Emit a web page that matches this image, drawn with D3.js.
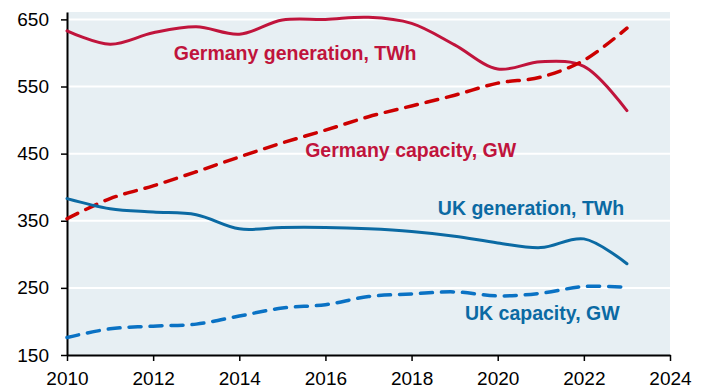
<!DOCTYPE html>
<html>
<head>
<meta charset="utf-8">
<script src="https://cdn.jsdelivr.net/npm/d3@7"></script>
<style>
  html, body { margin: 0; padding: 0; background: #fff; }
  svg { display: block; font-family: "Liberation Sans", Arial, sans-serif; }
</style>
</head>
<body>
<svg id="chart" width="707" height="390"></svg>
<script>
// Annual figures, 2010–2023
const years = [2010, 2011, 2012, 2013, 2014, 2015, 2016, 2017, 2018, 2019, 2020, 2021, 2022, 2023];
const germanyGeneration = [633, 613, 630, 639, 628, 649, 650, 653, 644, 612, 576, 587, 580, 514];
const germanyCapacity   = [353, 383, 402, 423, 445, 466, 485, 505, 521, 537, 555, 564, 589, 637];
const ukGeneration      = [383, 368, 363, 359, 338, 340, 340, 338, 334, 327, 317, 310, 323, 286];
const ukCapacity        = [176, 189, 193, 196, 208, 220, 225, 237, 241, 244, 238, 242, 252, 251];

const xTicks = [2010, 2012, 2014, 2016, 2018, 2020, 2022, 2024];
const yTicks = [150, 250, 350, 450, 550, 650];

const series = [
  { name: "Germany generation, TWh", values: germanyGeneration, color: "#c0143c", dashed: false,
    label: { year: 2012.48, value: 589 } },
  { name: "Germany capacity, GW", values: germanyCapacity, color: "#cc0000", dashed: true,
    labelColor: "#c0143c", label: { year: 2015.53, value: 445 } },
  { name: "UK generation, TWh", values: ukGeneration, color: "#0b6aa3", dashed: false,
    label: { year: 2018.61, value: 359 } },
  { name: "UK capacity, GW", values: ukCapacity, color: "#0a72c4", dashed: true,
    labelColor: "#0b6aa3", label: { year: 2019.24, value: 202.5 } }
];

const svg = d3.select("#chart");
const margin = { left: 67, right: 37, top: 12, bottom: 35 };
const width = 707, height = 390;

const x = d3.scaleLinear().domain([2010, 2024]).range([margin.left, width - margin.right]);
const y = d3.scaleLinear().domain([150, 661]).range([height - margin.bottom, margin.top]);

// plot background
svg.append("rect")
  .attr("x", x(2010)).attr("y", y(661))
  .attr("width", x(2024) - x(2010)).attr("height", y(150) - y(661))
  .attr("fill", "#e7eff3");

// horizontal gridlines
svg.append("g").selectAll("line")
  .data(yTicks.filter(t => t > 150))
  .join("line")
  .attr("x1", x(2010)).attr("x2", x(2024))
  .attr("y1", d => y(d)).attr("y2", d => y(d))
  .attr("stroke", "#fff").attr("stroke-width", 2);

// axes
const xAxis = svg.append("g")
  .attr("transform", `translate(0,${y(150)})`)
  .call(d3.axisBottom(x).tickValues(xTicks).tickFormat(d3.format("d")).tickSize(6).tickSizeOuter(0));
const yAxis = svg.append("g")
  .attr("transform", `translate(${x(2010)},0)`)
  .call(d3.axisLeft(y).tickValues(yTicks).tickSize(6).tickSizeOuter(0));

[xAxis, yAxis].forEach(g => {
  g.select(".domain").attr("stroke", "#000").attr("stroke-width", 2);
  g.selectAll(".tick line").attr("stroke", "#000").attr("stroke-width", 1.5);
  g.selectAll(".tick text").attr("fill", "#000").style("font-size", "19px")
    .style("font-family", '"Liberation Sans", Arial, sans-serif');
});
xAxis.selectAll(".tick text").attr("y", 30).attr("dy", 0);
yAxis.selectAll(".tick text").attr("x", -18);

// smoothed series lines
const line = d3.line()
  .x((d, i) => x(years[i]))
  .y(d => y(d))
  .curve(d3.curveCatmullRom.alpha(0.5));

const plot = svg.append("g");
series.forEach(s => {
  plot.append("path")
    .datum(s.values)
    .attr("d", line)
    .attr("fill", "none")
    .attr("stroke", s.color)
    .attr("stroke-width", s.dashed ? 3.5 : 3)
    .attr("stroke-linecap", "round")
    .attr("stroke-dasharray", s.dashed ? "12 9" : null);
});

// series labels
svg.append("g").selectAll("text")
  .data(series)
  .join("text")
  .attr("x", d => x(d.label.year))
  .attr("y", d => y(d.label.value))
  .attr("fill", d => d.labelColor || d.color)
  .style("font-size", "19.5px")
  .style("font-weight", "bold")
  .text(d => d.name);
</script>
</body>
</html>
